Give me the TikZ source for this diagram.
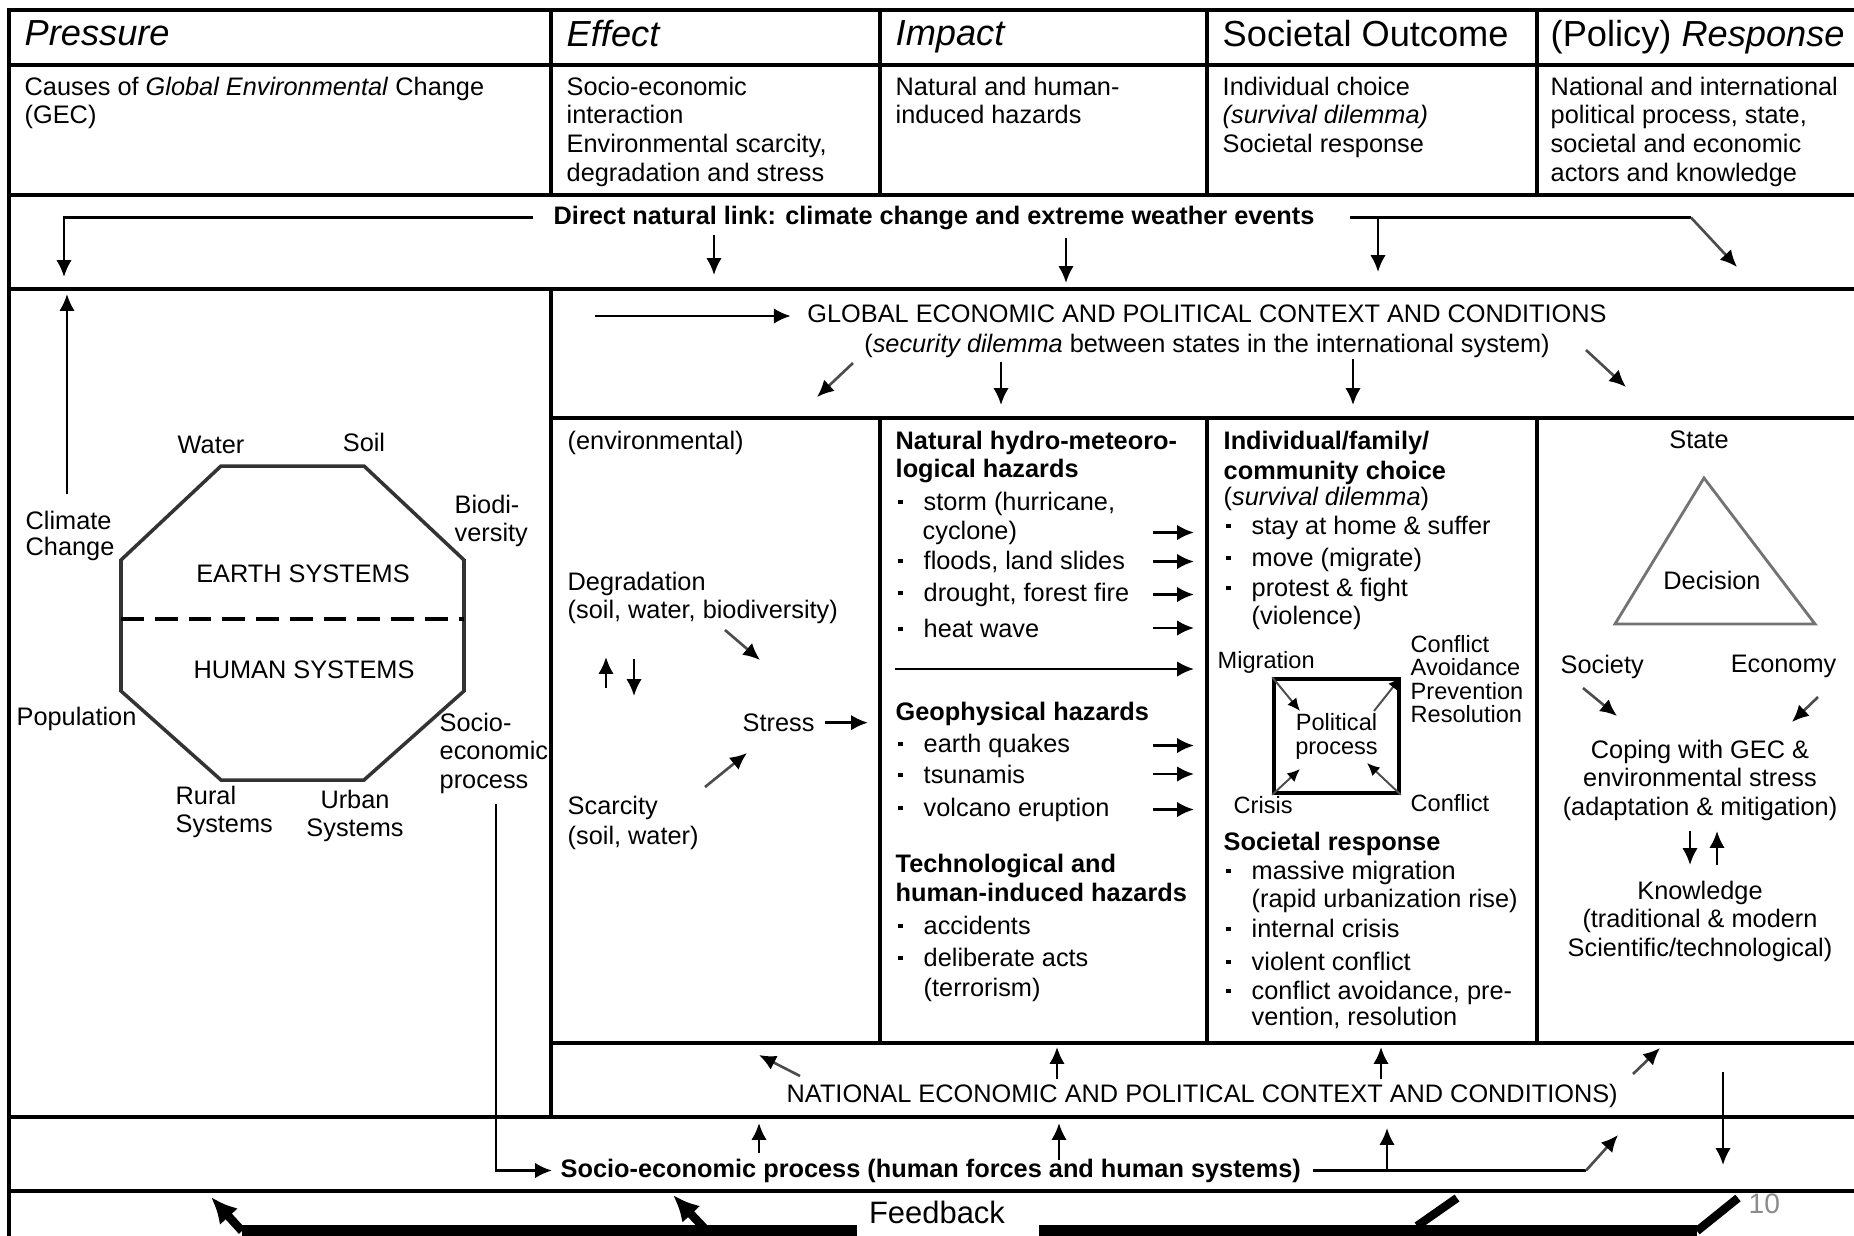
\documentclass[tikz,border=0pt]{standalone}
\usepackage{fontspec}
\setmainfont{Liberation Sans}
\usepackage{tikz}
\usetikzlibrary{arrows.meta}
\newcommand{\bul}{\makebox[7.4pt][l]{\rule[1.6pt]{1.4pt}{1.4pt}}}
\newcommand{\ind}{\hspace*{7.4pt}}

\begin{document}
\begin{tikzpicture}
    [
        x=0.01cm, y=-0.01cm,
        frame/.style = {line width=1pt},
        txt/.style = {inner sep=0pt, anchor=north west, align=left, font=\fontsize{7.2}{8.15}\selectfont},
        bold/.style = {txt, font=\fontsize{7.2}{8.15}\selectfont\bfseries},
        ctxt/.style = {txt, anchor=north, align=center},
        small/.style = {txt, font=\fontsize{6.7}{6.6}\selectfont},
        head/.style = {inner sep=0pt, anchor=north west, font=\fontsize{10.3}{12}\selectfont},
        polbox/.style = {draw, line width=1pt, minimum width=1.25cm, minimum height=1.14cm, inner sep=0pt, align=center, font=\fontsize{6.7}{6.8}\selectfont},
        arr/.style = {-{Latex[length=4.8pt,width=4.4pt]}, line width=0.75pt},
        darr/.style = {-{Latex[length=4.8pt,width=4.4pt,color=black]}, line width=0.75pt, draw=black!70},
        sarr/.style = {-{Latex[length=3.6pt,width=3.3pt,color=black]}, line width=0.55pt, draw=black!70},
        fbar/.style = {line width=3.4pt},
        fbarr/.style = {-{Latex[length=7.5pt,width=7pt]}, line width=2.4pt},
    ]

    \useasboundingbox (0,0) rectangle (1854,1236);
    \fill[white] (0,0) rectangle (1854,1236);

    % table frame
    \draw[frame] (9,1236) -- (9,10) -- (1854,10);
    \draw[frame] (9,65) -- (1854,65);
    \draw[frame] (9,195) -- (1854,195);
    \draw[frame] (9,289) -- (1854,289);
    \draw[frame] (9,1117) -- (1854,1117);
    \draw[frame] (9,1191) -- (1854,1191);
    \draw[frame] (551,10) -- (551,195);
    \draw[frame] (880,10) -- (880,195);
    \draw[frame] (1207,10) -- (1207,195);
    \draw[frame] (1537,10) -- (1537,195);
    \draw[frame] (551,289) -- (551,1117);
    \draw[frame] (551,418) -- (1854,418);
    \draw[frame] (551,1043) -- (1854,1043);
    \draw[frame] (880,418) -- (880,1043);
    \draw[frame] (1207,418) -- (1207,1043);
    \draw[frame] (1537,418) -- (1537,1043);

    % header
    \node[head] (hPres) at (24,20)   {\textit{Pressure}};
    \node[head] (hEff)  at (566,20)  {\textit{Effect}};
    \node[head] (hImp)  at (895,20)  {\textit{Impact}};
    \node[head] (hOut)  at (1222,20) {Societal Outcome};
    \node[head] (hResp) at (1550,20) {(Policy) \textit{Response}};

    \node[txt] (dPres) at (24,76)   {Causes of \textit{Global Environmental} Change\\(GEC)};
    \node[txt] (dEff)  at (566,76)  {Socio-economic\\interaction\\Environmental scarcity,\\degradation and stress};
    \node[txt] (dImp)  at (895,76)  {Natural and human-\\induced hazards};
    \node[txt] (dOut)  at (1222,76) {Individual choice\\\textit{(survival dilemma)}\\Societal response};
    \node[txt] (dResp) at (1550,76) {National and international\\political process, state,\\societal and economic\\actors and knowledge};

    % direct natural link
    \node[bold] (link) at (553,205) {Direct natural link: climate change and extreme weather events};
    \coordinate (lkP) at (64,277);
    \coordinate (lkE1) at (714,235);
    \coordinate (lkE2) at (714,275);
    \coordinate (lkI1) at (1066,238);
    \coordinate (lkI2) at (1066,283);
    \coordinate (lkO) at (1378,272);
    \coordinate (lkR) at (1691,216);
    \coordinate (lkS) at (1737,267);
    \draw[arr] ([xshift=-0.2cm]link.west) -| (lkP);
    \draw[arr] (lkE1) -- (lkE2);
    \draw[arr] (lkI1) -- (lkI2);
    \draw[line width=0.75pt] ([xshift=0.35cm]link.east) -- (link.east -| lkR);
    \draw[arr] (link.east -| lkO) -- (lkO);
    \draw[darr] (link.east -| lkR) -- (lkS);

    % pressure: earth and human systems
    \draw[line width=1pt, black!80] (221,466) -- (364,466) -- (464,560) -- (464,691) -- (364,780)
        -- (221,780) -- (121,691) -- (121,560) -- cycle;
    \draw[line width=1pt, dash pattern=on 6.5pt off 3.1pt] (121,619) -- (464,619);
    \node[ctxt, anchor=center] (earth) at (303,574) {EARTH SYSTEMS};
    \node[ctxt, anchor=center] (human) at (304,670) {HUMAN SYSTEMS};
    \node[ctxt] (water) at (211,435) {Water};
    \node[ctxt] (soil) at (364,432) {Soil};
    \node[txt] (biodi) at (454,494) {Biodi-\\versity};
    \node[txt] (climate) at (25,510) {Climate\\[-0.7pt]Change};
    \node[txt] (popul) at (16,706) {Population};
    \node[txt] (socio) at (439,712) {Socio-\\economic\\process};
    \node[txt] (rural) at (175,785) {Rural\\Systems};
    \node[ctxt] (urban) at (355,789) {Urban\\Systems};
    \coordinate (clBot) at (67,494);
    \coordinate (clTop) at (67,294);
    \draw[arr] (clBot) -- (clTop);

    % global context
    \node[ctxt] (glob) at (1207,304) {GLOBAL ECONOMIC AND POLITICAL CONTEXT AND CONDITIONS\\[0.4pt](\textit{security dilemma} between states in the international system)};
    \coordinate (gIn) at (595,316);
    \coordinate (gA1) at (853,363);
    \coordinate (gA2) at (817,397);
    \coordinate (gB1) at (1001,362);
    \coordinate (gB2) at (1001,405);
    \coordinate (gC1) at (1353,359);
    \coordinate (gC2) at (1353,405);
    \coordinate (gD1) at (1586,350);
    \coordinate (gD2) at (1626,387);
    \draw[arr, shorten >=0.16cm] (gIn) -- (gIn -| glob.west);
    \draw[darr] (gA1) -- (gA2);
    \draw[arr] (gB1) -- (gB2);
    \draw[arr] (gC1) -- (gC2);
    \draw[darr] (gD1) -- (gD2);

    % effect column
    \node[txt] (env) at (567,430) {(environmental)};
    \node[txt] (degr) at (567,571) {Degradation\\(soil, water, biodiversity)};
    \node[txt] (scar) at (567,795) {Scarcity\\[0.5pt](soil, water)};
    \node[txt] (stress) at (742,713) {Stress};
    \coordinate (dg1) at (725,630);
    \coordinate (dg2) at (760,660);
    \coordinate (up1) at (606,688);
    \coordinate (up2) at (606,657);
    \coordinate (dn1) at (634,659);
    \coordinate (dn2) at (634,696);
    \coordinate (sc1) at (705,787);
    \coordinate (sc2) at (747,753);
    \coordinate (strT) at (868,722);
    \draw[darr] (dg1) -- (dg2);
    \draw[arr] (up1) -- (up2);
    \draw[arr] (dn1) -- (dn2);
    \draw[darr] (sc1) -- (sc2);
    \draw[arr, shorten <=0.1cm] (stress.east) -- (stress.east -| strT);

    % impact column
    \node[bold] (nat) at (895,430) {Natural hydro-meteoro-\\logical hazards};
    \node[txt] (storm) at (897,491) {\bul storm (hurricane,};
    \node[txt] (cyclone) at (922,520) {cyclone)};
    \node[txt] (floods) at (897,550) {\bul floods, land slides};
    \node[txt] (drought) at (897,582) {\bul drought, forest fire};
    \node[txt] (heat) at (897,618) {\bul heat wave};
    \node[bold] (geo) at (895,701) {Geophysical hazards};
    \node[txt] (quake) at (897,733) {\bul earth quakes};
    \node[txt] (tsunami) at (897,764) {\bul tsunamis};
    \node[txt] (volcano) at (897,797) {\bul volcano eruption};
    \node[bold] (tech) at (895,853) {Technological and\\[0.3pt]human-induced hazards};
    \node[txt] (accid) at (897,915) {\bul accidents};
    \node[txt] (delib) at (897,947) {\bul deliberate acts\\[0.6pt]\ind(terrorism)};
    \coordinate (hzL) at (1153,0);
    \coordinate (hzR) at (1194,0);
    \coordinate (hzA) at (895,669);
    \draw[arr] (hzL |- cyclone) -- (hzR |- cyclone);
    \draw[arr] (hzL |- floods) -- (hzR |- floods);
    \draw[arr] (hzL |- drought) -- (hzR |- drought);
    \draw[arr] (hzL |- heat) -- (hzR |- heat);
    \draw[arr] (hzA) -- (hzR |- hzA);
    \draw[arr] (hzL |- quake) -- (hzR |- quake);
    \draw[arr] (hzL |- tsunami) -- (hzR |- tsunami);
    \draw[arr] (hzL |- volcano) -- (hzR |- volcano);

    % societal outcome column
    \node[bold] (indiv) at (1223,430) {Individual/family/\\[0.5pt]community choice};
    \node[txt] (surv) at (1223,486) {(\textit{survival dilemma})};
    \node[txt] (stay) at (1225,515) {\bul stay at home \& suffer};
    \node[txt] (move) at (1225,547) {\bul move (migrate)};
    \node[txt] (protest) at (1225,577) {\bul protest \& fight\\\ind(violence)};
    \node[small] (migr) at (1217,651) {Migration};
    \node[small] (avoid) at (1410,635) {Conflict\\Avoidance\\Prevention\\Resolution};
    \node[polbox] (pol) at (1336.5,736) {Political\\process};
    \node[small] (crisis) at (1233,796) {Crisis};
    \node[small] (confl) at (1410,794) {Conflict};
    \coordinate (pM) at (1300,711);
    \coordinate (pA) at (1374,711);
    \coordinate (pC) at (1300,769);
    \coordinate (pF) at (1367,763);
    \draw[sarr] (pol.north west) -- (pM);
    \draw[sarr] (pA) -- (pol.north east);
    \draw[sarr] (pol.south west) -- (pC);
    \draw[sarr] (pol.south east) -- (pF);
    \node[bold] (socresp) at (1223,831) {Societal response};
    \node[txt] (massive) at (1225,860) {\bul massive migration\\\ind(rapid urbanization rise)};
    \node[txt] (internal) at (1225,918) {\bul internal crisis};
    \node[txt] (violent) at (1225,951) {\bul violent conflict};
    \node[txt] (cavoid) at (1225,980) {\bul conflict avoidance, pre-\\[-0.7pt]\ind vention, resolution};

    % response column
    \node[ctxt] (state) at (1699,430) {State};
    \draw[line width=0.8pt, black!55] (1704,478) -- (1815,624) -- (1615,624) -- cycle;
    \node[ctxt, anchor=center] (decision) at (1712,580) {Decision};
    \node[txt] (society) at (1560,654) {Society};
    \node[txt, anchor=north east] (economy) at (1837,654) {Economy};
    \node[ctxt] (coping) at (1700,739) {Coping with GEC \&\\environmental stress\\(adaptation \& mitigation)};
    \node[ctxt] (know) at (1700,880) {Knowledge\\(traditional \& modern\\Scientific/technological)};
    \coordinate (soA) at (1583,688);
    \coordinate (soB) at (1617,716);
    \coordinate (ecA) at (1818,697);
    \coordinate (ecB) at (1792,722);
    \coordinate (kA) at (1690,831);
    \coordinate (kB) at (1690,865);
    \coordinate (kC) at (1717,865);
    \coordinate (kD) at (1717,831);
    \draw[darr] (soA) -- (soB);
    \draw[darr] (ecA) -- (ecB);
    \draw[arr] (kA) -- (kB);
    \draw[arr] (kC) -- (kD);

    % national context
    \node[txt] (national) at (786,1083) {NATIONAL ECONOMIC AND POLITICAL CONTEXT AND CONDITIONS)};
    \coordinate (nA1) at (800,1076);
    \coordinate (nA2) at (759,1055);
    \coordinate (nB1) at (1057,1079);
    \coordinate (nB2) at (1057,1047);
    \coordinate (nC1) at (1381,1079);
    \coordinate (nC2) at (1381,1047);
    \coordinate (nD1) at (1633,1074);
    \coordinate (nD2) at (1660,1048);
    \coordinate (nE1) at (1723,1072);
    \coordinate (nE2) at (1723,1165);
    \draw[darr] (nA1) -- (nA2);
    \draw[arr] (nB1) -- (nB2);
    \draw[arr] (nC1) -- (nC2);
    \draw[darr] (nD1) -- (nD2);
    \draw[arr] (nE1) -- (nE2);

    % socio-economic process
    \node[bold] (seproc) at (560,1158) {Socio-economic process (human forces and human systems)};
    \coordinate (seTop) at (496,804);
    \coordinate (seR) at (1586,1170);
    \coordinate (seT) at (1618,1135);
    \coordinate (sA1) at (759,1153);
    \coordinate (sA2) at (759,1123);
    \coordinate (sB1) at (1059,1160);
    \coordinate (sB2) at (1059,1123);
    \coordinate (sC1) at (1387,1170);
    \coordinate (sC2) at (1387,1128);
    \draw[arr, shorten >=0.08cm] (seTop) |- (seproc.west);
    \draw[line width=0.75pt] ([xshift=0.11cm]seproc.east) -- (seproc.east -| seR);
    \draw[darr] (seproc.east -| seR) -- (seT);
    \draw[arr] (sA1) -- (sA2);
    \draw[arr] (sB1) -- (sB2);
    \draw[arr] (sC1) -- (sC2);

    % feedback
    \node[inner sep=0pt, anchor=north, font=\fontsize{8.8}{10}\selectfont] (fb) at (937,1200) {Feedback};
    \coordinate (fbA) at (242,1231);
    \coordinate (fbB) at (857,1231);
    \coordinate (fbC) at (1039,1231);
    \coordinate (fbD) at (1697,1231);
    \coordinate (fbH1) at (211,1197);
    \coordinate (fbT2) at (706,1230);
    \coordinate (fbH2) at (673,1195);
    \coordinate (fbS1) at (1417,1226);
    \coordinate (fbS2) at (1457,1198);
    \coordinate (fbS3) at (1738,1198);
    \draw[fbar] (fbA) -- (fbB);
    \draw[fbar] (fbC) -- (fbD);
    \draw[fbarr] (fbA) -- (fbH1);
    \draw[fbarr] (fbT2) -- (fbH2);
    \draw[line width=2.4pt] (fbS1) -- (fbS2);
    \draw[line width=2.4pt] (fbD) -- (fbS3);

    \node[inner sep=0pt, anchor=north west, text=black!45, font=\fontsize{8}{9}\selectfont] (page) at (1748,1193) {10};
\end{tikzpicture}
\end{document}
